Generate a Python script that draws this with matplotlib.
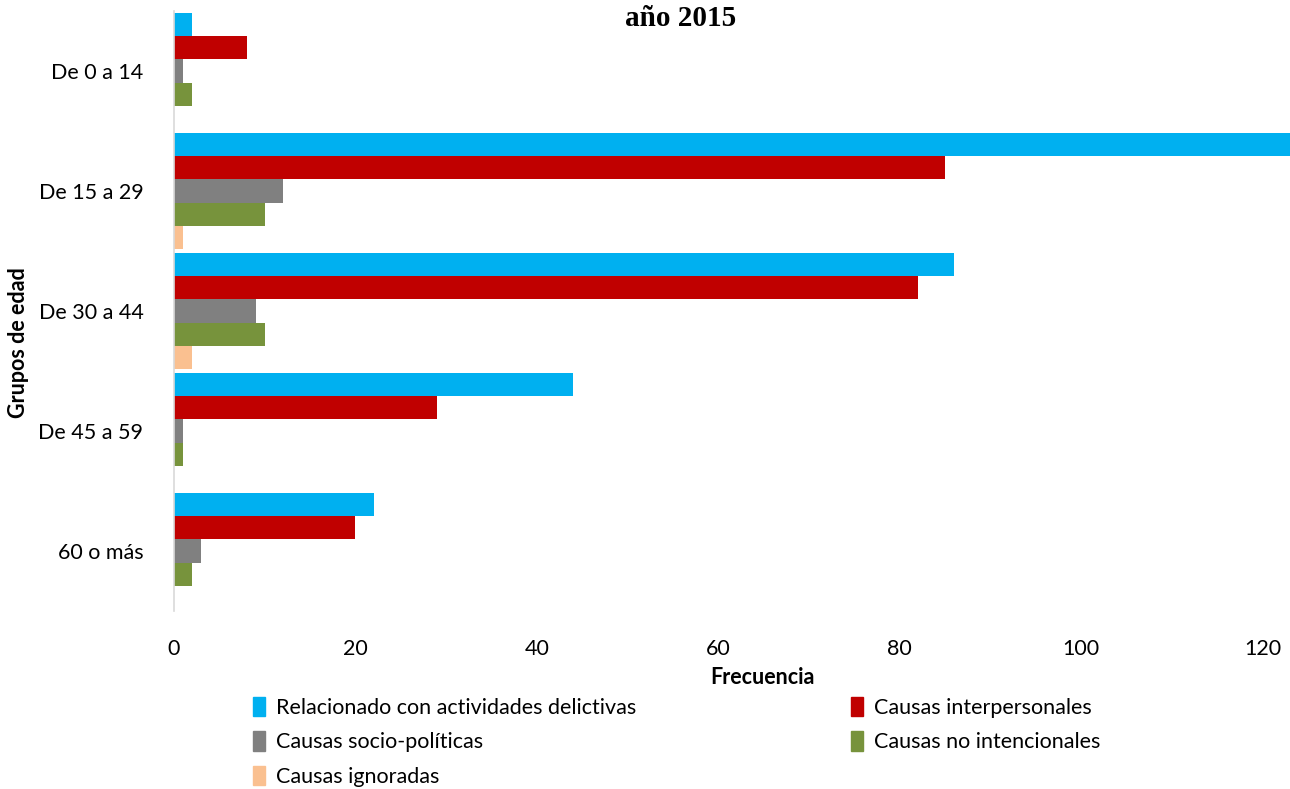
import numpy as np
import matplotlib.pyplot as plt
from matplotlib.patches import Patch

# --- Data ---
grupos = ["De 0 a 14", "De 15 a 29", "De 30 a 44", "De 45 a 59", "60 o más"]
series = [
    "Relacionado con actividades delictivas",
    "Causas interpersonales",
    "Causas socio-políticas",
    "Causas no intencionales",
    "Causas ignoradas",
]
delictivas = [2, 130, 86, 44, 22]
interpersonales = [8, 85, 82, 29, 20]
socio_politicas = [1, 12, 9, 1, 3]
no_intencionales = [2, 10, 10, 1, 2]
ignoradas = [0, 1, 2, 0, 0]
x_ticks = [0, 20, 40, 60, 80, 100, 120]

colores = ["#00B0F0", "#C00000", "#808080", "#77933C", "#FAC090"]
valores = [delictivas, interpersonales, socio_politicas, no_intencionales, ignoradas]

plt.rcParams["font.family"] = ["Lato", "DejaVu Sans"]

fig = plt.figure(figsize=(12.9, 7.89), dpi=100)
ax = fig.add_axes([174 / 1290, 1 - 611 / 789, 1 - 174 / 1290, 600 / 789])

# --- Bars ---
n = len(series)
h = 0.97 / n
y = np.arange(len(grupos))
for j, (vals, col) in enumerate(zip(valores, colores)):
    ax.barh(y - 0.485 + h / 2 + j * h, vals, height=h, color=col, label=series[j])

ax.set_xlim(0, (1290 - 174) / 9.07)
ax.set_ylim(len(grupos) - 0.5, -0.5)
ax.set_xticks(x_ticks)
ax.set_xticklabels([str(t) for t in x_ticks])
ax.set_yticks(y)
ax.set_yticklabels(grupos)
ax.tick_params(axis="both", length=0, labelsize=15.5, colors="#000000")
ax.tick_params(axis="x", pad=20)
ax.tick_params(axis="y", pad=22)

for s in ["top", "right", "bottom"]:
    ax.spines[s].set_visible(False)
ax.spines["left"].set_color("#d9d9d9")
ax.spines["left"].set_linewidth(1.2)

# --- Labels ---
fig.text(762 / 1290, 1 - 677 / 789, "Frecuencia", ha="center", va="center",
         fontsize=15.5, fontweight="bold")
fig.text(19 / 1290, 1 - 343 / 789, "Grupos de edad", ha="center", va="center",
         rotation=90, fontsize=15.5, fontweight="bold")
fig.text(681 / 1290, 1 - 18 / 789, "año 2015", ha="center", va="center",
         fontsize=21, fontweight="bold", family="Liberation Serif")

# --- Legend (row order like the original) ---
orden = [0, 2, 4, 1, 3]
handles = [Patch(color=colores[i], label=series[i]) for i in orden]
fig.legend(handles=handles, ncol=2, loc="upper left",
           bbox_to_anchor=(253 / 1290, 1 - 697 / 789), frameon=False,
           fontsize=15.5, handlelength=0.55, handleheight=1.0, handletextpad=0.5,
           columnspacing=10.0, labelspacing=0.62, borderaxespad=0, borderpad=0)

fig.savefig("out.png", dpi=100)
